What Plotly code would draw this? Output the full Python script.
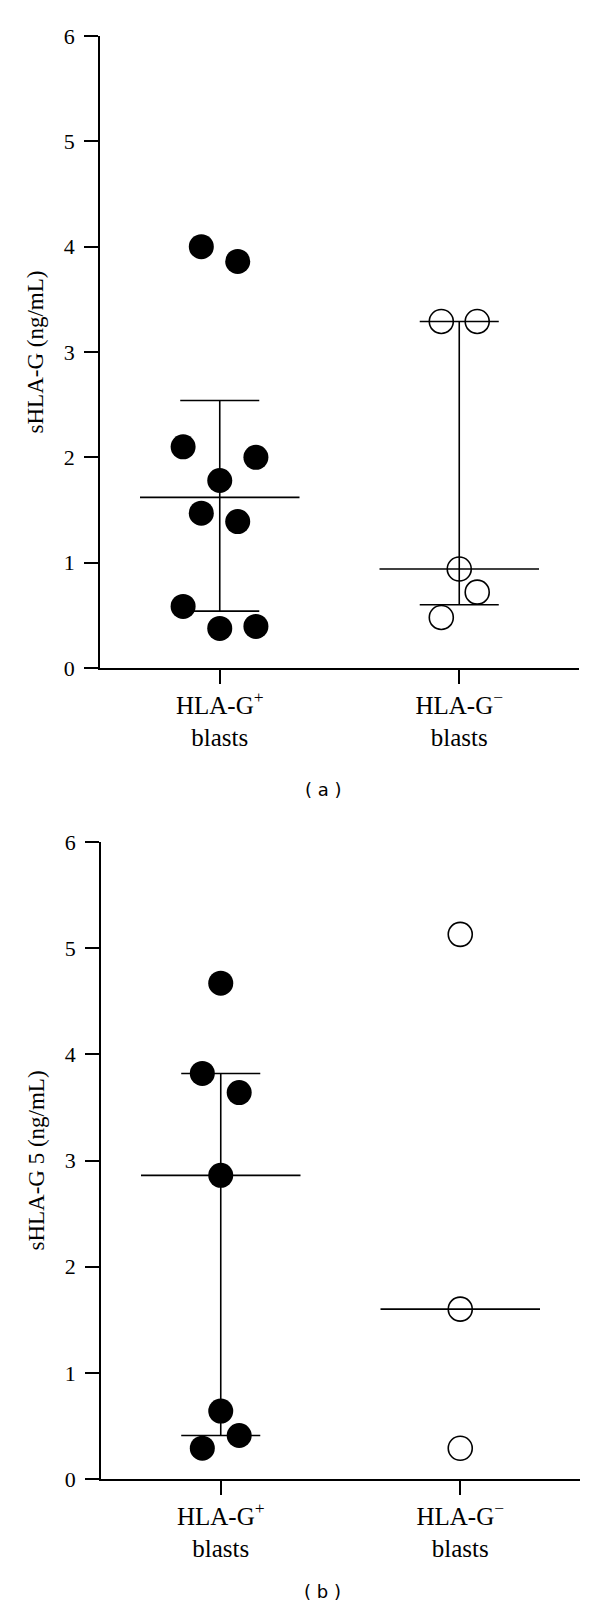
import plotly.graph_objects as go

# categories (x = 0, 1)
categories = ["HLA-G<sup>+</sup><br>blasts", "HLA-G<sup>\u2212</sup><br>blasts"]
y_ticks = [0, 1, 2, 3, 4, 5, 6]

# panel (a): sHLA-G (ng/mL)
a_pos_vals = [4.00, 3.86, 2.10, 2.00, 1.78, 1.47, 1.39, 0.585, 0.376, 0.395]
a_pos_jit = [-0.077, 0.075, -0.153, 0.151, 0.0, -0.077, 0.075, -0.153, 0.0, 0.151]
a_neg_vals = [3.29, 3.29, 0.94, 0.72, 0.48]
a_neg_jit = [-0.075, 0.075, 0.0, 0.075, -0.075]
a_median = [1.62, 0.94]
a_upper = [2.54, 3.29]
a_lower = [0.54, 0.60]

# panel (b): sHLA-G 5 (ng/mL)
b_pos_vals = [4.67, 3.82, 3.64, 2.86, 0.64, 0.41, 0.29]
b_pos_jit = [0.0, -0.077, 0.077, 0.0, 0.0, 0.077, -0.077]
b_neg_vals = [5.13, 1.60, 0.29]
b_neg_jit = [0.0, 0.0, 0.0]
b_median = [2.86, 1.60]
b_upper = [3.82, None]
b_lower = [0.41, None]

MED_HW = 0.333
CAP_HW = 0.165
LW = 1.6


def add_panel(fig, xa, ya, pos_vals, pos_jit, neg_vals, neg_jit, med, up, lo):
    # median lines + whiskers
    for i in range(2):
        fig.add_trace(go.Scatter(x=[i - MED_HW, i + MED_HW], y=[med[i], med[i]], mode="lines",
                                 line=dict(color="black", width=LW), xaxis=xa, yaxis=ya, showlegend=False))
        if up[i] is None:
            continue
        fig.add_trace(go.Scatter(x=[i, i], y=[lo[i], up[i]], mode="lines",
                                 line=dict(color="black", width=LW), xaxis=xa, yaxis=ya, showlegend=False))
        for v in (lo[i], up[i]):
            fig.add_trace(go.Scatter(x=[i - CAP_HW, i + CAP_HW], y=[v, v], mode="lines",
                                     line=dict(color="black", width=LW), xaxis=xa, yaxis=ya, showlegend=False))
    fig.add_trace(go.Scatter(x=[0 + j for j in pos_jit], y=pos_vals, mode="markers",
                             marker=dict(symbol="circle", size=25, color="black", line=dict(width=0)),
                             xaxis=xa, yaxis=ya, showlegend=False))
    fig.add_trace(go.Scatter(x=[1 + j for j in neg_jit], y=neg_vals, mode="markers",
                             marker=dict(symbol="circle-open", size=24, color="black", line=dict(width=1.6)),
                             xaxis=xa, yaxis=ya, showlegend=False))


fig = go.Figure()
add_panel(fig, "x", "y", a_pos_vals, a_pos_jit, a_neg_vals, a_neg_jit, a_median, a_upper, a_lower)
add_panel(fig, "x2", "y2", b_pos_vals, b_pos_jit, b_neg_vals, b_neg_jit, b_median, b_upper, b_lower)

ser = "Liberation Serif"
xax = dict(range=[-0.5, 1.5], tickvals=[0, 1], ticktext=categories, showline=True, linecolor="black",
           linewidth=LW, ticks="outside", ticklen=14, tickwidth=LW, tickcolor="black", showgrid=False,
           zeroline=False, tickfont=dict(family=ser, size=25, color="black"), automargin=False)
yax = dict(range=[0, 6], tickvals=y_ticks, showline=True, linecolor="black", linewidth=LW,
           ticks="outside", ticklen=14, tickwidth=LW, tickcolor="black", showgrid=False, zeroline=False,
           tickfont=dict(family=ser, size=22, color="black"), ticklabelstandoff=5, automargin=False)

fig.update_layout(
    width=600, height=1620,
    margin=dict(l=0, r=0, t=0, b=0),
    paper_bgcolor="white", plot_bgcolor="white",
    xaxis=dict(xax, domain=[100 / 600, 579 / 600], anchor="y"),
    yaxis=dict(yax, domain=[1 - 668 / 1620, 1 - 36 / 1620], anchor="x",
               title=dict(text="sHLA-G (ng/mL)", font=dict(family=ser, size=23, color="black"), standoff=14)),
    xaxis2=dict(xax, domain=[101 / 600, 580 / 600], anchor="y2"),
    yaxis2=dict(yax, domain=[1 - 1479 / 1620, 1 - 842 / 1620], anchor="x2",
                title=dict(text="sHLA-G 5 (ng/mL)", font=dict(family=ser, size=23, color="black"), standoff=14)),
    annotations=[
        dict(text="( a )", x=323 / 600, y=1 - 790 / 1620, xref="paper", yref="paper", showarrow=False,
             font=dict(family="DejaVu Sans", size=18, color="black")),
        dict(text="( b )", x=322 / 600, y=1 - 1604 / 1620, xref="paper", yref="paper", showarrow=False,
             font=dict(family="DejaVu Sans", size=18, color="black")),
    ],
)

# drop the browser's default 8px body margin so the figure sits at (0, 0)
fig.write_html("out.html", config={"displayModeBar": False},
               post_script="document.body.style.margin='0';")
